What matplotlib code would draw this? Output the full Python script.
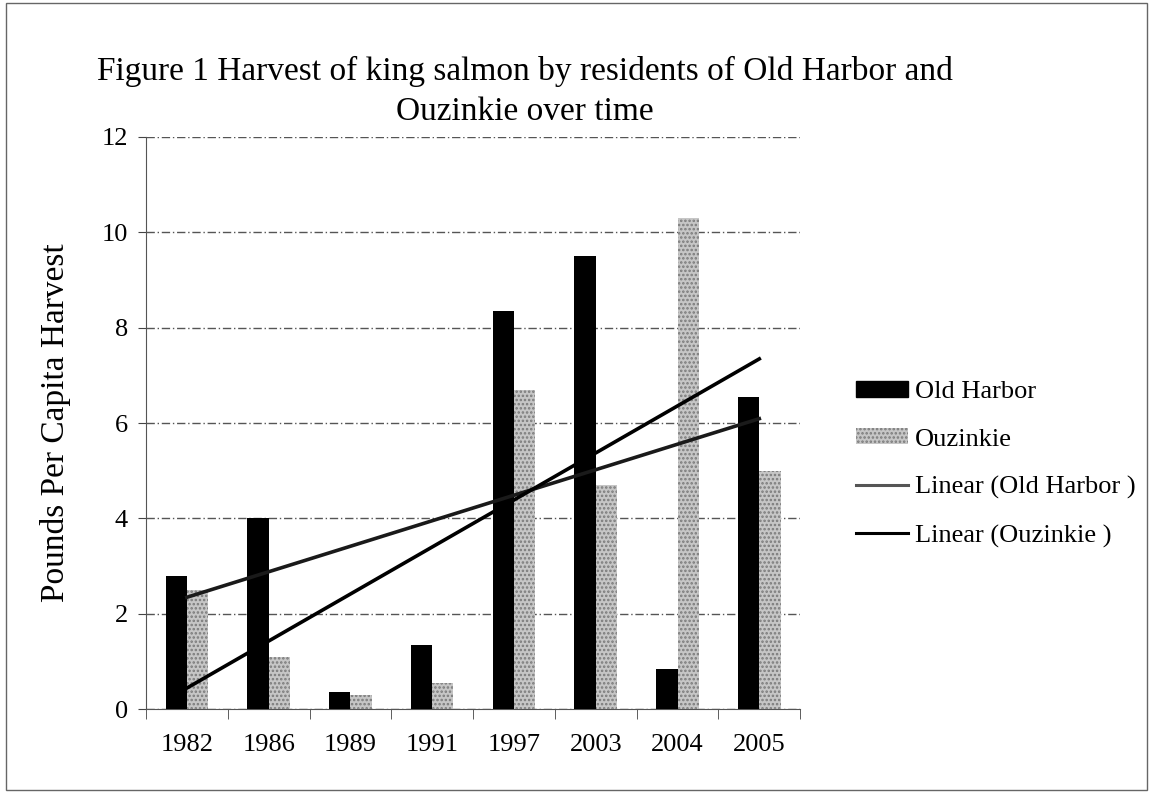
import numpy as np
import matplotlib
matplotlib.use("Agg")
import matplotlib.pyplot as plt
from matplotlib.patches import Patch, Rectangle
from matplotlib.lines import Line2D

years = ["1982", "1986", "1989", "1991", "1997", "2003", "2004", "2005"]
old_harbor = [2.8, 4.0, 0.35, 1.35, 8.35, 9.5, 0.85, 6.55]
ouzinkie = [2.5, 1.1, 0.3, 0.55, 6.7, 4.7, 10.3, 5.0]
yticks = [0, 2, 4, 6, 8, 10, 12]

plt.rcParams['font.family'] = ['Liberation Serif', 'DejaVu Serif']
plt.rcParams['hatch.linewidth'] = 1.2

fig = plt.figure(figsize=(11.53, 7.95), dpi=100)
ax = fig.add_axes([0.1266, 0.108, 0.5674, 0.7197])

x = np.arange(1, len(years) + 1)
w = 0.26
ax.bar(x - w / 2, old_harbor, width=w, color='black', zorder=3)
ax.bar(x + w / 2, ouzinkie, width=w, facecolor='#c6c6c6', edgecolor='#7a7a7a',
       hatch='....', linewidth=0, zorder=3)

# linear trendlines
c1 = np.polyfit(x, old_harbor, 1)
c2 = np.polyfit(x, ouzinkie, 1)
ax.plot(x, np.polyval(c1, x), color='#1a1a1a', lw=2.6, zorder=4)
ax.plot(x, np.polyval(c2, x), color='black', lw=2.6, zorder=4)

ax.set_xlim(0.5, len(years) + 0.5)
ax.set_ylim(0, 12)
ax.set_yticks(yticks)
ax.set_yticklabels([str(t) for t in yticks], fontsize=19)
ax.set_xticks(x)
ax.set_xticklabels(years, fontsize=19)
ax.set_xticks(np.arange(0.5, len(years) + 1), minor=True)
ax.tick_params(axis='x', which='major', length=0, pad=18)
ax.tick_params(axis='x', which='minor', length=7, direction='out', color='#444')
ax.tick_params(axis='y', length=6, direction='out', color='#444', pad=7)

ax.grid(axis='y', color='#555555', lw=1.0, linestyle=(0, (6, 2, 1, 2)), zorder=0)
for s in ['top', 'right']:
    ax.spines[s].set_visible(False)
ax.spines['left'].set_color('#555')
ax.spines['bottom'].set_color('#555')
ax.set_ylabel("Pounds Per Capita Harvest", fontsize=24, labelpad=22)

fig.text(0.4553, 1 - 80 / 795, "Figure 1 Harvest of king salmon by residents of Old Harbor and",
         ha='center', va='baseline', fontsize=24)
fig.text(0.4553, 1 - 120 / 795, "Ouzinkie over time",
         ha='center', va='baseline', fontsize=24)

handles = [
    Patch(facecolor='black', edgecolor='black'),
    Patch(facecolor='#c6c6c6', edgecolor='#7a7a7a', hatch='....', linewidth=0),
    Line2D([0], [0], color='#555555', lw=2.2),
    Line2D([0], [0], color='black', lw=2.2),
]
labels = ["Old Harbor", "Ouzinkie", "Linear (Old Harbor )", "Linear (Ouzinkie )"]
fig.legend(handles, labels, loc='upper left', bbox_to_anchor=(0.7215, 1 - 357 / 795),
           frameon=False, fontsize=19, handlelength=2.0, handleheight=0.55,
           handletextpad=0.25, labelspacing=0.96)

fig.patches.append(Rectangle((0.005, 0.006), 0.99, 0.99, transform=fig.transFigure,
                             fill=False, edgecolor='#666', lw=1.0))

fig.savefig("out.png", dpi=100)
